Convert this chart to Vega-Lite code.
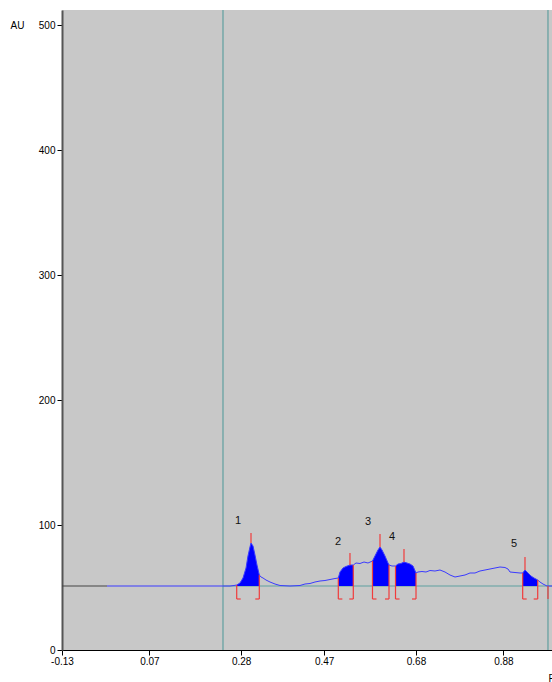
{
  "$schema": "https://vega.github.io/schema/vega-lite/v6.json",
  "width": 490,
  "height": 640,
  "autosize": {"type": "none"},
  "padding": {"left": 62, "top": 10, "right": 0, "bottom": 32},
  "background": "white",
  "config": {
    "view": {"fill": "#c8c8c8", "stroke": null},
    "font": "Liberation Sans",
    "axis": {"grid": false, "labelFont": "Liberation Sans", "titleFont": "Liberation Sans", "labelColor": "#000", "titleColor": "#000", "labelFontSize": 10, "titleFontSize": 10, "titleFontWeight": "normal", "tickColor": "#000", "tickSize": 5}
  },
  "datasets": {
    "curve": [
      {"x": -0.027, "y": 51.2}, {"x": 0.2544, "y": 51.2}, {"x": 0.2636, "y": 51.6},
      {"x": 0.2698, "y": 52, "peak": 1}, {"x": 0.2773, "y": 53.6, "peak": 1}, {"x": 0.2842, "y": 57.6, "peak": 1},
      {"x": 0.2911, "y": 65.6, "peak": 1}, {"x": 0.2956, "y": 75.2, "peak": 1}, {"x": 0.3002, "y": 82.4, "peak": 1},
      {"x": 0.3025, "y": 85.6, "peak": 1}, {"x": 0.3071, "y": 83.2, "peak": 1}, {"x": 0.3116, "y": 76, "peak": 1},
      {"x": 0.3162, "y": 68, "peak": 1}, {"x": 0.3215, "y": 60, "peak": 1},
      {"x": 0.3254, "y": 58.4}, {"x": 0.33, "y": 57.6}, {"x": 0.3368, "y": 56}, {"x": 0.346, "y": 54.4},
      {"x": 0.3574, "y": 52.8}, {"x": 0.3689, "y": 51.6}, {"x": 0.3917, "y": 51.2}, {"x": 0.4146, "y": 51.6},
      {"x": 0.4261, "y": 52.8}, {"x": 0.4375, "y": 53.2}, {"x": 0.4489, "y": 54.4}, {"x": 0.4604, "y": 55.2},
      {"x": 0.4718, "y": 55.6}, {"x": 0.4833, "y": 56.4}, {"x": 0.4947, "y": 57.2},
      {"x": 0.5023, "y": 57.6, "peak": 2}, {"x": 0.5062, "y": 62.4, "peak": 2}, {"x": 0.513, "y": 65.6, "peak": 2},
      {"x": 0.5199, "y": 66.8, "peak": 2}, {"x": 0.529, "y": 68, "peak": 2}, {"x": 0.5366, "y": 68, "peak": 2},
      {"x": 0.5428, "y": 69.6}, {"x": 0.5519, "y": 69.2}, {"x": 0.5611, "y": 70.4}, {"x": 0.5702, "y": 69.6},
      {"x": 0.5805, "y": 71.2, "peak": 3}, {"x": 0.5862, "y": 75.2, "peak": 3}, {"x": 0.5931, "y": 80, "peak": 3},
      {"x": 0.5977, "y": 82.4, "peak": 3}, {"x": 0.6023, "y": 80, "peak": 3}, {"x": 0.6091, "y": 75.2, "peak": 3},
      {"x": 0.616, "y": 69.6, "peak": 3}, {"x": 0.6183, "y": 68, "peak": 3},
      {"x": 0.6251, "y": 67.2},
      {"x": 0.6332, "y": 67.2, "peak": 4}, {"x": 0.6389, "y": 68.8, "peak": 4}, {"x": 0.6457, "y": 69.2, "peak": 4},
      {"x": 0.6526, "y": 70.4, "peak": 4}, {"x": 0.6595, "y": 69.6, "peak": 4}, {"x": 0.6663, "y": 68.8, "peak": 4},
      {"x": 0.6732, "y": 67.2, "peak": 4}, {"x": 0.6801, "y": 61.6, "peak": 4},
      {"x": 0.6846, "y": 62.4}, {"x": 0.6938, "y": 62.8}, {"x": 0.703, "y": 62.4}, {"x": 0.7121, "y": 63.6},
      {"x": 0.7235, "y": 63.2}, {"x": 0.735, "y": 64}, {"x": 0.7464, "y": 62.4}, {"x": 0.7579, "y": 60},
      {"x": 0.7693, "y": 58.4}, {"x": 0.7808, "y": 59.2}, {"x": 0.7922, "y": 60}, {"x": 0.8036, "y": 61.6},
      {"x": 0.8151, "y": 61.6}, {"x": 0.8265, "y": 63.2}, {"x": 0.838, "y": 64}, {"x": 0.8494, "y": 64.8},
      {"x": 0.8608, "y": 65.6}, {"x": 0.8723, "y": 66.4}, {"x": 0.8837, "y": 66}, {"x": 0.8906, "y": 64.8},
      {"x": 0.8952, "y": 62.4}, {"x": 0.9066, "y": 62}, {"x": 0.9181, "y": 61.6},
      {"x": 0.9242, "y": 61.6, "peak": 5}, {"x": 0.9295, "y": 64, "peak": 5}, {"x": 0.9364, "y": 61.6, "peak": 5},
      {"x": 0.9432, "y": 59.2, "peak": 5}, {"x": 0.9501, "y": 57.6, "peak": 5}, {"x": 0.9586, "y": 56, "peak": 5},
      {"x": 0.9638, "y": 54.4}, {"x": 0.9707, "y": 52.8}, {"x": 0.9798, "y": 51.2}, {"x": 0.9913, "y": 51.2}
    ],
    "red": [
      {"x": 0.3025, "x2": 0.3025, "y": 85.6, "y2": 93.6},
      {"x": 0.529, "x2": 0.529, "y": 68, "y2": 77.6},
      {"x": 0.5977, "x2": 0.5977, "y": 82.4, "y2": 92.8},
      {"x": 0.6526, "x2": 0.6526, "y": 70.4, "y2": 80.8},
      {"x": 0.9295, "x2": 0.9295, "y": 64, "y2": 74.4},
      {"x": 0.2698, "x2": 0.2698, "y": 52, "y2": 40.8},
      {"x": 0.2698, "x2": 0.279, "y": 40.8, "y2": 40.8},
      {"x": 0.3215, "x2": 0.3215, "y": 60, "y2": 40.8},
      {"x": 0.3123, "x2": 0.3215, "y": 40.8, "y2": 40.8},
      {"x": 0.5023, "x2": 0.5023, "y": 57.6, "y2": 40.8},
      {"x": 0.5023, "x2": 0.5115, "y": 40.8, "y2": 40.8},
      {"x": 0.5366, "x2": 0.5366, "y": 68, "y2": 40.8},
      {"x": 0.5274, "x2": 0.5366, "y": 40.8, "y2": 40.8},
      {"x": 0.5805, "x2": 0.5805, "y": 71.2, "y2": 40.8},
      {"x": 0.5805, "x2": 0.5897, "y": 40.8, "y2": 40.8},
      {"x": 0.6183, "x2": 0.6183, "y": 68, "y2": 40.8},
      {"x": 0.6091, "x2": 0.6183, "y": 40.8, "y2": 40.8},
      {"x": 0.6332, "x2": 0.6332, "y": 67.2, "y2": 40.8},
      {"x": 0.6332, "x2": 0.6424, "y": 40.8, "y2": 40.8},
      {"x": 0.6801, "x2": 0.6801, "y": 61.6, "y2": 40.8},
      {"x": 0.6709, "x2": 0.6801, "y": 40.8, "y2": 40.8},
      {"x": 0.9242, "x2": 0.9242, "y": 61.6, "y2": 40.8},
      {"x": 0.9242, "x2": 0.9334, "y": 40.8, "y2": 40.8},
      {"x": 0.9586, "x2": 0.9586, "y": 56, "y2": 40.8},
      {"x": 0.9494, "x2": 0.9586, "y": 40.8, "y2": 40.8},
      {"x": 0.9821, "x2": 0.9821, "y": 51.2, "y2": 40.8}
    ],
    "teal": [
      {"x": 0.2384, "x2": 0.2384, "y": 0, "y2": 512},
      {"x": 0.9821, "x2": 0.9821, "y": 0, "y2": 512},
      {"x": 0.2384, "x2": 0.9913, "y": 51.2, "y2": 51.2}
    ],
    "dark": [
      {"x": -0.13, "x2": -0.027, "y": 51.2, "y2": 51.2}
    ],
    "labels": [
      {"x": 0.2727, "y": 103.2, "label": "1"},
      {"x": 0.5016, "y": 86.4, "label": "2"},
      {"x": 0.5702, "y": 102.4, "label": "3"},
      {"x": 0.6251, "y": 90.4, "label": "4"},
      {"x": 0.9043, "y": 84.8, "label": "5"}
    ]
  },
  "encoding": {
    "x": {
      "field": "x", "type": "quantitative",
      "scale": {"domain": [-0.13, 0.9913], "nice": false, "zero": false},
      "axis": {
        "values": [-0.13, 0.07, 0.28, 0.47, 0.68, 0.88],
        "labelExpr": "datum.value < 0 ? '-0.13' : format(datum.value, '.2f')",
        "labelFlush": false, "labelOverlap": false, "labelPadding": 1,
        "domainColor": "#000", "domainWidth": 1,
        "title": "Rf", "titleX": 486, "titleY": 28, "titleAlign": "left", "titleBaseline": "middle"
      }
    },
    "y": {
      "field": "y", "type": "quantitative",
      "scale": {"domain": [0, 512], "nice": false},
      "axis": {
        "values": [0, 100, 200, 300, 400, 500], "format": "d",
        "labelPadding": 2, "domainColor": "#555", "domainWidth": 2,
        "title": "AU", "titleAngle": 0, "titleX": -45, "titleY": 15, "titleAlign": "center", "titleBaseline": "middle"
      }
    }
  },
  "layer": [
    {"data": {"name": "teal"}, "mark": {"type": "rule", "color": "#5f9f9f", "strokeWidth": 1.2}, "encoding": {"x2": {"field": "x2"}, "y2": {"field": "y2"}}},
    {"data": {"name": "dark"}, "mark": {"type": "rule", "color": "#444444", "strokeWidth": 1.2}, "encoding": {"x2": {"field": "x2"}, "y2": {"field": "y2"}}},
    {"data": {"name": "curve"}, "transform": [{"filter": "datum.peak > 0"}], "mark": {"type": "area", "color": "#0000ff", "orient": "vertical", "opacity": 1}, "encoding": {"y2": {"datum": 51.2}, "detail": {"field": "peak", "type": "nominal"}}},
    {"data": {"name": "curve"}, "mark": {"type": "line", "color": "#3a3aff", "strokeWidth": 1}, "encoding": {}},
    {"data": {"name": "red"}, "mark": {"type": "rule", "color": "#f03c3c", "strokeWidth": 1.2}, "encoding": {"x2": {"field": "x2"}, "y2": {"field": "y2"}}},
    {"data": {"name": "labels"}, "mark": {"type": "text", "fontSize": 11, "color": "#111", "align": "center", "baseline": "middle"}, "encoding": {"text": {"field": "label"}}}
  ]
}
